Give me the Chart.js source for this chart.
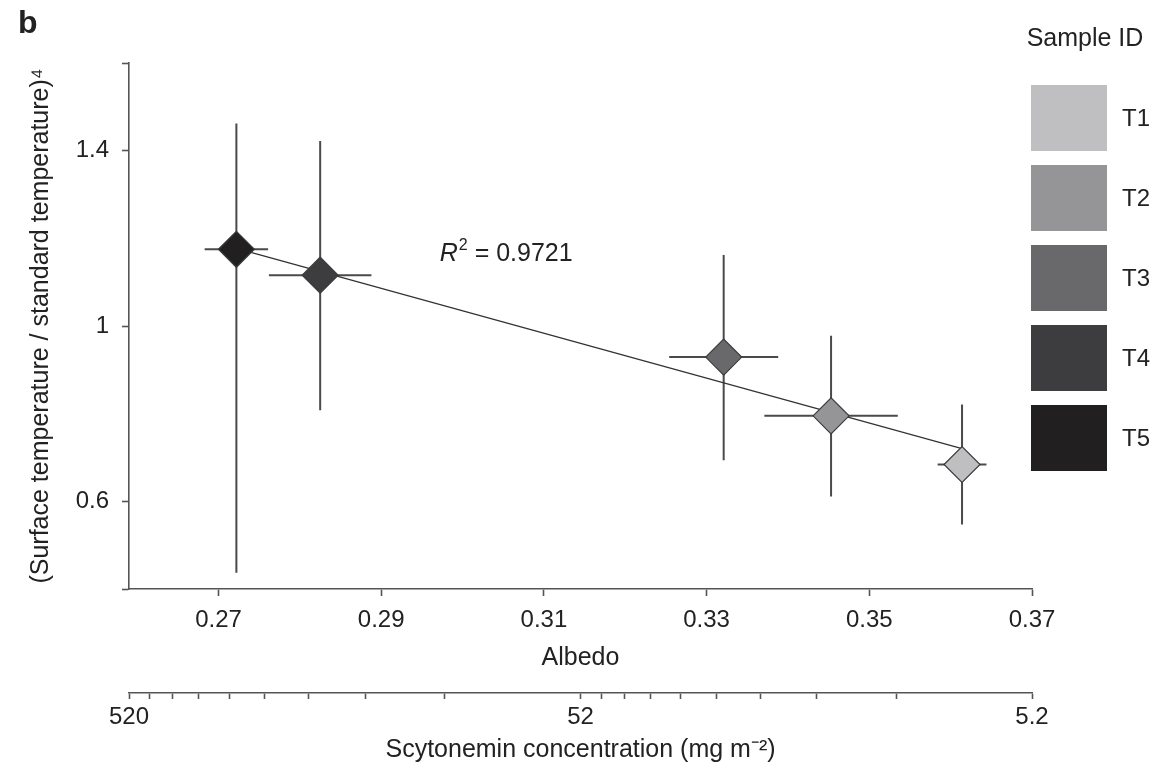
<!DOCTYPE html>
<html>
<head>
<meta charset="utf-8">
<script src="https://cdn.jsdelivr.net/npm/chart.js@4.4.1/dist/chart.umd.min.js"></script>
<style>
  html, body { margin: 0; padding: 0; background: #fff; }
  #wrap { width: 1159px; height: 780px; }
</style>
</head>
<body>
<div id="wrap"><canvas id="albedoChart" width="1159" height="780"></canvas></div>
<script>
// sample measurements
const sampleIds = ['T1', 'T2', 'T3', 'T4', 'T5'];
const sampleColors = ['#bfbfc1', '#959597', '#69696b', '#3d3d3f', '#211f20'];
const albedo = [0.3614, 0.3453, 0.3321, 0.2825, 0.2722];
const albedoErr = [0.0030, 0.0082, 0.0067, 0.0063, 0.0039];
const tempRatio = [0.684, 0.795, 0.929, 1.116, 1.175];
const tempLow = [0.547, 0.611, 0.694, 0.808, 0.437];
const tempHigh = [0.821, 0.978, 1.162, 1.422, 1.462];

// regression line end points
const fitX = [0.2722, 0.3614];
const fitY = [1.177, 0.720];
const fitR2 = '0.9721';
const fitLabelAt = { x: 0.2972, y: 1.148 };

// axis ticks
const albedoTicks = [0.27, 0.29, 0.31, 0.33, 0.35, 0.37];
const albedoTickLabels = ['0.27', '0.29', '0.31', '0.33', '0.35', '0.37'];
const ratioTicks = [0.4, 0.6, 1.0, 1.4, 1.6];
const ratioTickLabels = ['', '0.6', '1', '1.4', ''];
const scytTicks = [520, 468, 416, 364, 312, 260, 208, 156, 104,
                   52, 46.8, 41.6, 36.4, 31.2, 26, 20.8, 15.6, 10.4, 5.2];
const scytLabelled = [520, 52, 5.2];

const FONT = '"Liberation Sans", Arial, Helvetica, sans-serif';
const INK = '#222';
const AXIS = '#555';

Chart.defaults.font.family = FONT;
Chart.defaults.color = INK;

// error bars go under the markers
const errorBars = {
    id: 'errorBars',
    beforeDatasetsDraw(chart) {
        const { ctx, scales: { x, y } } = chart;
        ctx.save();
        ctx.strokeStyle = '#4a4a4a';
        ctx.lineWidth = 2;
        ctx.beginPath();
        albedo.forEach((a, i) => {
            const px = x.getPixelForValue(a);
            const py = y.getPixelForValue(tempRatio[i]);
            ctx.moveTo(px, y.getPixelForValue(tempHigh[i]));
            ctx.lineTo(px, y.getPixelForValue(tempLow[i]));
            ctx.moveTo(x.getPixelForValue(a - albedoErr[i]), py);
            ctx.lineTo(x.getPixelForValue(a + albedoErr[i]), py);
        });
        ctx.stroke();
        ctx.restore();
    }
};

// panel letter, R^2 note and the sample key
const extras = {
    id: 'extras',
    afterDraw(chart) {
        const { ctx, scales: { x, y } } = chart;
        ctx.save();
        ctx.fillStyle = INK;

        ctx.font = 'bold 32px ' + FONT;
        ctx.textAlign = 'left';
        ctx.textBaseline = 'alphabetic';
        ctx.fillText('b', 18, 33);

        // R^2 = ...
        let rx = x.getPixelForValue(fitLabelAt.x);
        const ry = y.getPixelForValue(fitLabelAt.y);
        ctx.font = 'italic 25px ' + FONT;
        ctx.fillText('R', rx, ry);
        rx += ctx.measureText('R').width + 1;
        ctx.font = '16px ' + FONT;
        ctx.fillText('2', rx, ry - 11);
        rx += ctx.measureText('2').width;
        ctx.font = '25px ' + FONT;
        ctx.fillText(' = ' + fitR2, rx, ry);

        // key
        ctx.textBaseline = 'middle';
        ctx.textAlign = 'center';
        ctx.font = '25px ' + FONT;
        ctx.fillText('Sample ID', 1085, 39);
        ctx.textAlign = 'left';
        ctx.font = '24px ' + FONT;
        sampleIds.forEach((id, i) => {
            const top = 85 + i * 80;
            ctx.fillStyle = sampleColors[i];
            ctx.fillRect(1031, top, 76, 66);
            ctx.fillStyle = INK;
            ctx.fillText(id, 1122, top + 34);
        });
        ctx.restore();
    }
};

const axisLine = { display: true, color: AXIS, width: 1.6 };
const tickMarks = (len) => ({
    drawOnChartArea: false, drawTicks: true, tickLength: len,
    tickWidth: 1.6, tickColor: AXIS, color: AXIS
});

new Chart(document.getElementById('albedoChart'), {
    type: 'scatter',
    data: {
        datasets: [
            {
                label: 'Samples',
                data: albedo.map((a, i) => ({ x: a, y: tempRatio[i] })),
                pointStyle: 'rectRot',
                pointRadius: 18,
                pointHoverRadius: 18,
                pointBackgroundColor: sampleColors,
                pointBorderColor: '#3a3a3a',
                pointBorderWidth: 1.2,
                order: 0
            },
            {
                label: 'Fit',
                data: fitX.map((v, i) => ({ x: v, y: fitY[i] })),
                showLine: true,
                borderColor: '#333',
                borderWidth: 1.3,
                pointRadius: 0,
                order: 1
            }
        ]
    },
    options: {
        responsive: false,
        animation: false,
        events: [],
        layout: { padding: { top: 63, right: 127, bottom: 0, left: 0 } },
        plugins: { legend: { display: false }, tooltip: { enabled: false } },
        scales: {
            x: {
                type: 'linear',
                position: 'bottom',
                weight: 0,
                min: 0.259,
                max: 0.37,
                afterBuildTicks: (s) => { s.ticks = albedoTicks.map(v => ({ value: v })); },
                afterFit: (s) => { s.height = 104; },
                border: axisLine,
                grid: tickMarks(7),
                ticks: {
                    autoSkip: false, maxRotation: 0, padding: 10,
                    font: { size: 24 },
                    callback: (v, i) => albedoTickLabels[i]
                },
                title: {
                    display: true, text: 'Albedo',
                    font: { size: 25 }, padding: { top: 0, bottom: 20 }
                }
            },
            x2: {
                type: 'logarithmic',
                axis: 'x',
                position: 'bottom',
                weight: 1,
                reverse: true,
                min: 5.2,
                max: 520,
                afterBuildTicks: (s) => { s.ticks = scytTicks.map(v => ({ value: v })); },
                afterFit: (s) => { s.height = 87; },
                border: axisLine,
                grid: tickMarks(6),
                ticks: {
                    autoSkip: false, maxRotation: 0, padding: 4,
                    font: { size: 24 },
                    callback: (v) => scytLabelled.includes(v) ? String(v) : ''
                },
                title: {
                    display: true, text: 'Scytonemin concentration (mg m\u207B\u00B2)',
                    font: { size: 25 }, padding: { top: 0, bottom: 15 }
                }
            },
            y: {
                type: 'linear',
                min: 0.4,
                max: 1.6,
                afterBuildTicks: (s) => { s.ticks = ratioTicks.map(v => ({ value: v })); },
                afterFit: (s) => { s.width = 129; },
                border: axisLine,
                grid: tickMarks(7),
                ticks: {
                    autoSkip: false, padding: 13,
                    font: { size: 24 },
                    callback: (v, i) => ratioTickLabels[i]
                },
                title: {
                    display: true,
                    text: '(Surface temperature / standard temperature)\u2074',
                    font: { size: 25 }, padding: { top: 26, bottom: 0 }
                }
            }
        }
    },
    plugins: [errorBars, extras]
});
</script>
</body>
</html>
